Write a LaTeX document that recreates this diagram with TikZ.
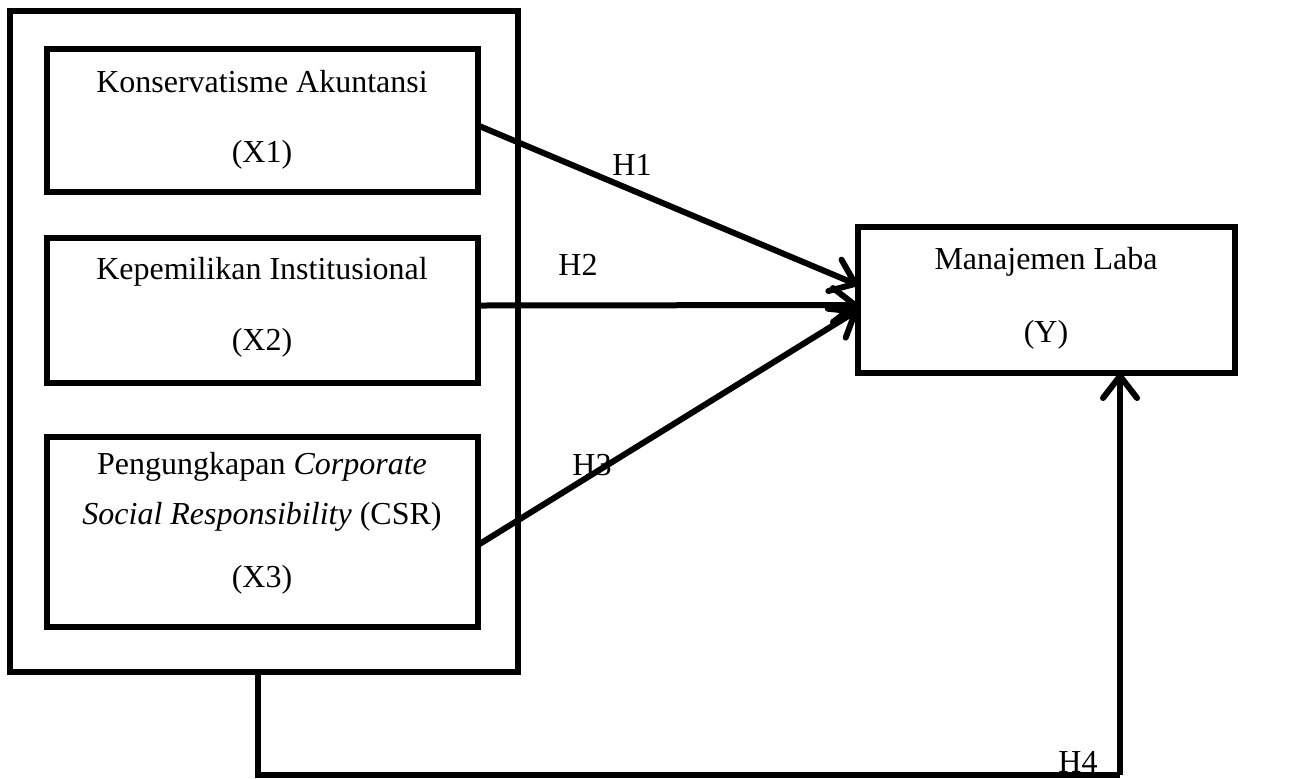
\documentclass[tikz,border=0pt]{standalone}
\usepackage{fontspec}
\setmainfont{Liberation Serif}
\usetikzlibrary{arrows.meta,calc}
\begin{document}
\begin{tikzpicture}[x=0.5pt,y=-0.5pt,
  box/.style={draw, line width=2.6pt, inner sep=0pt, outer sep=0pt},
  txt/.style={font=\fontsize{16}{19}\selectfont, inner sep=0pt},
  conn/.style={line width=3pt, -{Straight Barb[length=11pt,width=17pt,line width=3pt,round]}},
  plain/.style={line width=3pt}]
\useasboundingbox (0,0) rectangle (1294,778);
\node[box, minimum width=254pt, minimum height=330.5pt] (outer) at (264,341.5) {};
\node[box, minimum width=215.5pt, minimum height=71.5pt] (b1) at (262.5,120.5) {};
\node[box, minimum width=215.5pt, minimum height=72.5pt] (b2) at (262.5,310.5) {};
\node[box, minimum width=215.5pt, minimum height=95pt] (b3) at (262.5,532) {};
\node[box, minimum width=188.5pt, minimum height=73pt] (y) at (1046.5,300) {};
\node[txt] (t1a) at (262,82) {Konservatisme Akuntansi};
\node[txt] (t1b) at (262,155) {(X1)};
\node[txt] (t2a) at (262,272) {Kepemilikan Institusional};
\node[txt] (t2b) at (262,343) {(X2)};
\node[txt] (t3a) at (262,467) {Pengungkapan \textit{Corporate}};
\node[txt] (t3b) at (262,517) {\textit{Social Responsibility} (CSR)};
\node[txt] (t3c) at (262,580) {(X3)};
\node[txt] (ya) at (1046,262) {Manajemen Laba};
\node[txt] (yb) at (1046,335) {(Y)};
\coordinate (s1) at ($(b1.east)+(0,5)$);
\coordinate (s2) at ($(b2.east)+(0,-5)$);
\coordinate (s3) at ($(b3.east)+(0,13)$);
\coordinate (e1) at ($(y.west)+(0,-15)$);
\coordinate (e2) at ($(y.west)+(0,5)$);
\coordinate (e3) at ($(y.west)+(0,10)$);
\draw[conn] (s1) -- (e1);
\draw[conn] (s2) -- (e2);
\draw[conn] (s3) -- (e3);
\coordinate (o4) at (outer.south -| 258,0);
\coordinate (c4a) at (258,775);
\coordinate (c4b) at (1120,775);
\draw[plain] (o4) -- (c4a) -- (c4b);
\draw[conn] (c4b) -- (y.south -| c4b);
\node[txt] (h1) at (632,165) {H1};
\node[txt] (h2) at (578,265) {H2};
\node[txt] (h3) at (592,465) {H3};
\node[txt] (h4) at (1078,762) {H4};
\end{tikzpicture}
\end{document}
